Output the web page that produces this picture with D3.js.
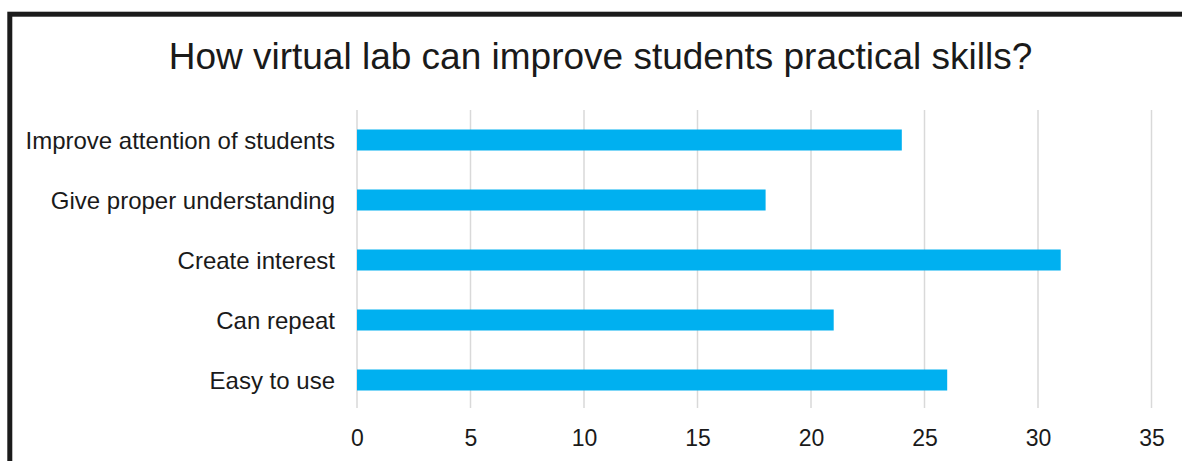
<!DOCTYPE html>
<html>
<head>
<meta charset="utf-8">
<script src="https://cdn.jsdelivr.net/npm/d3@7"></script>
<style>
  html, body { margin: 0; padding: 0; background: #fff; overflow: hidden; }
  svg { display: block; font-family: "Liberation Sans", Arial, sans-serif; }
</style>
</head>
<body>
<svg id="chart" width="1182" height="461"></svg>
<script>
const categories = [
  "Improve attention of students",
  "Give proper understanding",
  "Create interest",
  "Can repeat",
  "Easy to use"
];
const values = [24, 18, 31, 21, 26];
const xTicks = [0, 5, 10, 15, 20, 25, 30, 35];
const title = "How virtual lab can improve students practical skills?";

const FONT = "'Liberation Sans', Arial, sans-serif";
const svg = d3.select("#chart");

// outer frame (runs past the right and bottom edges)
svg.append("rect")
  .attr("x", 9.8).attr("y", 14.2)
  .attr("width", 1300).attr("height", 600)
  .attr("fill", "none")
  .attr("stroke", "#1b1b1b")
  .attr("stroke-width", 5);

const plot = { left: 357, right: 1151.5, top: 110, bottom: 410 };

const x = d3.scaleLinear().domain([0, 35]).range([plot.left, plot.right]);
const y = d3.scaleBand().domain(categories).range([plot.top, plot.bottom]).paddingInner(0.65).paddingOuter(0.325);

// vertical gridlines
svg.append("g")
  .selectAll("line")
  .data(xTicks)
  .join("line")
  .attr("x1", d => x(d)).attr("x2", d => x(d))
  .attr("y1", plot.top).attr("y2", plot.bottom - 2)
  .attr("stroke", "#d9d9d9")
  .attr("stroke-width", 1.5);

// bars
svg.append("g")
  .selectAll("rect")
  .data(categories)
  .join("rect")
  .attr("x", x(0))
  .attr("y", d => y(d))
  .attr("width", (d, i) => x(values[i]) - x(0))
  .attr("height", y.bandwidth())
  .attr("fill", "#00b0f0");

// x axis labels
const xAxis = d3.axisBottom(x).tickValues(xTicks).tickSize(0).tickPadding(0);
const gx = svg.append("g").attr("transform", `translate(0, 429)`).call(xAxis);
gx.select(".domain").remove();
gx.selectAll("text")
  .attr("dy", "0.72em")
  .attr("fill", "#1a1a1a")
  .style("font-size", "23px")
  .style("font-family", FONT);

// category labels
const yAxis = d3.axisLeft(y).tickSize(0).tickPadding(22);
const gy = svg.append("g").attr("transform", `translate(${plot.left}, 0)`).call(yAxis);
gy.select(".domain").remove();
gy.selectAll("text")
  .attr("dy", "0.36em")
  .attr("fill", "#1a1a1a")
  .style("font-size", "24px")
  .style("font-family", FONT);

// title
svg.append("text")
  .attr("x", 600.5).attr("y", 69)
  .attr("text-anchor", "middle")
  .attr("fill", "#1a1a1a")
  .style("font-size", "37px")
  .style("font-family", FONT)
  .text(title);
</script>
</body>
</html>
